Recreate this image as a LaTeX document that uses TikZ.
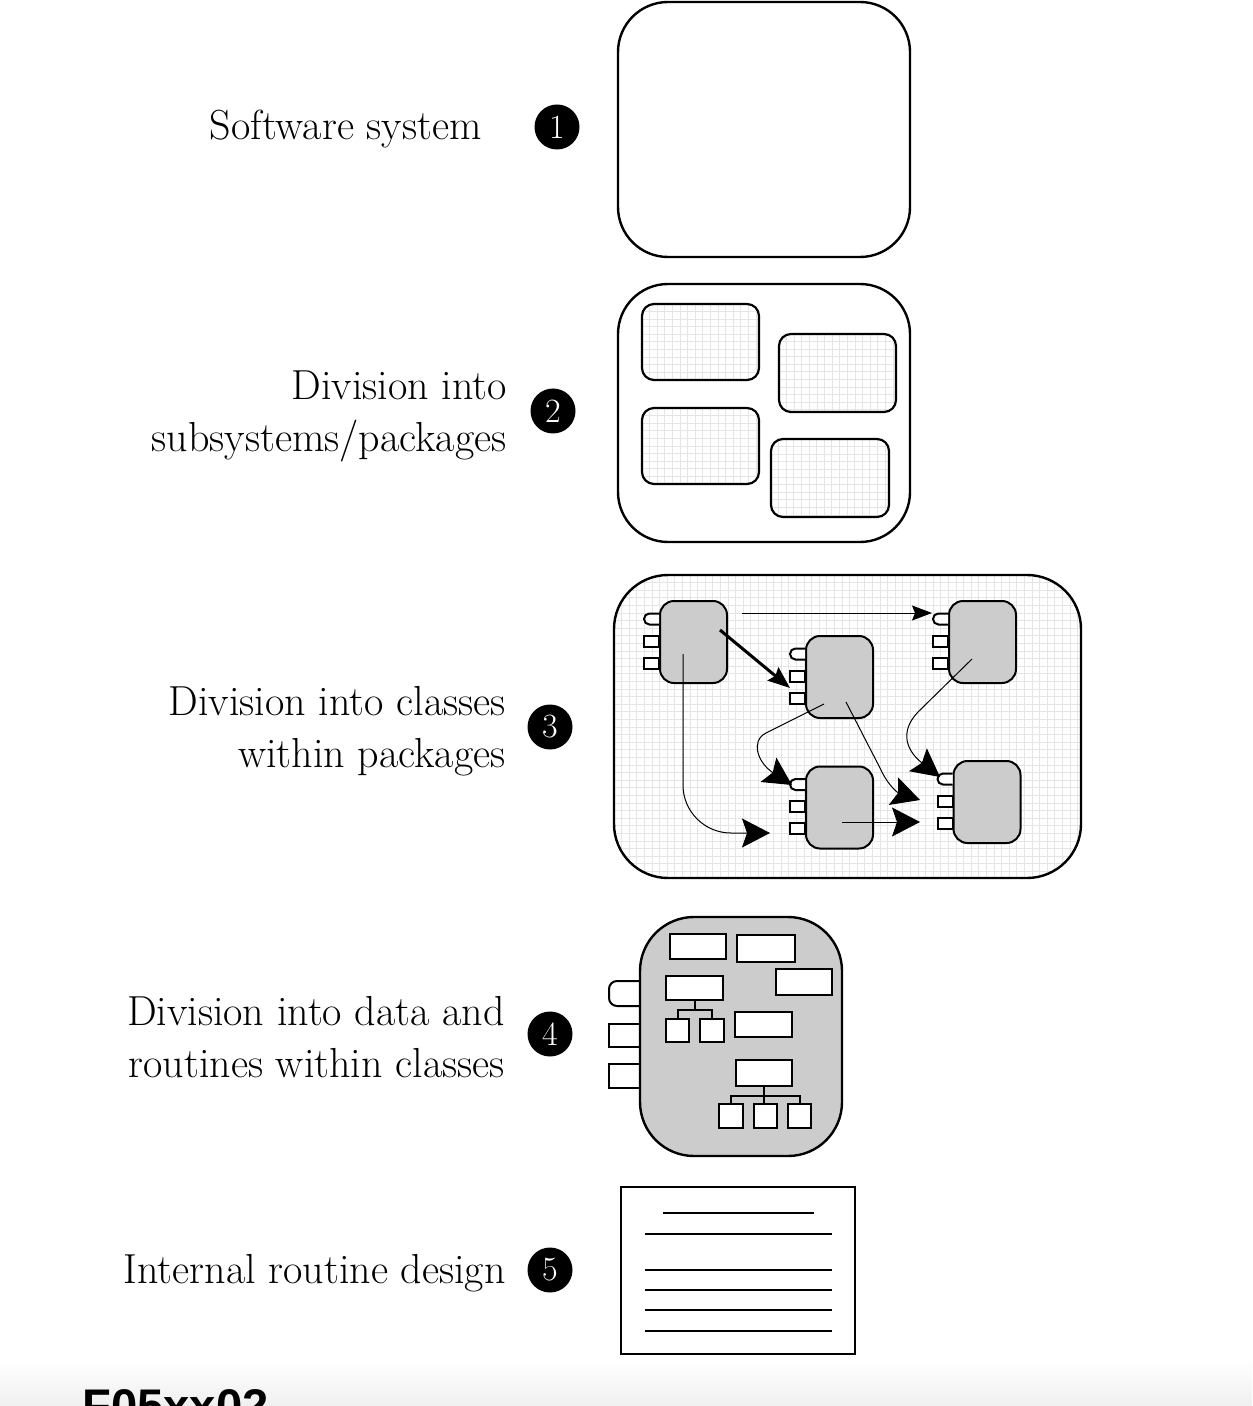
\documentclass[tikz,border=0pt]{standalone}
\usepackage{fontspec}
\newfontfamily\tagfont{Liberation Sans}
\usetikzlibrary{calc, arrows.meta}

\tikzset{
  lbl/.style={anchor=east, align=right, inner sep=0pt, font=\fontsize{21}{26}\selectfont},
  num/.style={circle, fill=black, text=white, minimum size=22.5pt, inner sep=0pt, font=\fontsize{17}{17}\selectfont},
  pkg/.style={draw, line width=1.2pt, rounded corners=25pt},
  subpkg/.style={draw, line width=1.1pt, rounded corners=6pt},
  gridline/.style={black!10, line width=0.5pt},
  gridfill/.style={path picture={
      \foreach \k in {0,...,70} {
        \draw[gridline] ($(path picture bounding box.north west)+(\k*7.6,0)$) -- ++(0,560);
        \draw[gridline] ($(path picture bounding box.north west)+(0,\k*7.6)$) -- ++(560,0);
      }}},
  cls/.style={draw, line width=1pt, fill=black!20, rounded corners=7pt, minimum width=33.5pt, minimum height=41pt, inner sep=0pt},
  port/.style={draw, line width=1pt, fill=white},
  cell/.style={draw, line width=1pt, fill=white, inner sep=0pt, minimum width=28pt, minimum height=12.5pt},
  leaf/.style={cell, minimum width=11.8pt, minimum height=11.8pt},
  treeline/.style={line width=1pt},
  dep/.style={line width=0.5pt, -{Stealth[inset=1.5pt, length=10pt, width=7.5pt]}},
  bolddep/.style={line width=1.5pt, -{Stealth[inset=1.5pt, length=11pt, width=8.5pt]}},
  bigdep/.style={line width=0.5pt, -{Stealth[inset=2.5pt, length=14pt, width=14.5pt]}},
  pagerule/.style={line width=1pt},
}

\newcommand{\classports}[1]{%
  \draw[port, rounded corners=2.7pt] ($(#1.west)+(0,-28.5)$) -- ++(-15,0) -- ++(0,11) -- ++(15,0);
  \draw[port] ($(#1.west)+(-15,-6.5)$) rectangle ++(15,11);
  \draw[port] ($(#1.west)+(-15,15.5)$) rectangle ++(15,11);
}

\begin{document}
\begin{tikzpicture}[x=0.5pt, y=-0.5pt]
  \useasboundingbox (0,0) rectangle (1252,1406);
  \clip (0,0) rectangle (1252,1406);
  \shade[top color=white, bottom color=black!6] (0,1360) rectangle (1252,1406);

  \node[lbl] (l1) at (482,129) {Software system};
  \node[lbl] (l2) at (507,416) {Division into\\subsystems/packages};
  \node[lbl] (l3) at (506,731) {Division into classes\\within packages};
  \node[lbl] (l4) at (505,1037) {Division into data and\\routines within classes};
  \node[lbl] (l5) at (506,1273) {Internal routine design};

  \node[num] (n1) at (557,127) {1};
  \node[num] (n2) at (553,411) {2};
  \node[num] (n3) at (550,727) {3};
  \node[num] (n4) at (550,1034) {4};
  \node[num] (n5) at (550,1270) {5};

  \draw[pkg] (618,2) rectangle (910,257);

  \draw[pkg] (618,284) rectangle (910,542);
  \draw[subpkg, gridfill] (642,304) rectangle (759,380);
  \draw[subpkg, gridfill] (779,334) rectangle (896,412);
  \draw[subpkg, gridfill] (642,408) rectangle (759,484);
  \draw[subpkg, gridfill] (771,439) rectangle (889,517);

  \draw[pkg, rounded corners=27pt, gridfill] (614,575) rectangle (1081,878);
  \node[cls] (c1) at (693.5,642) {};
  \node[cls] (c2) at (839.5,677) {};
  \node[cls] (c3) at (982.5,642) {};
  \node[cls] (c4) at (839.5,807.5) {};
  \node[cls] (c5) at (987,802) {};
  \foreach \c in {c1,c2,c3,c4,c5} {\classports{\c}}

  \draw[dep] ($(c1)+(48.5,-29)$) -- ($(c3)+(-50.5,-29)$);
  \draw[bolddep] ($(c1)+(26.5,-12)$) -- ($(c2)+(-49.5,11)$);
  \draw[bigdep, rounded corners=24pt] ($(c1)+(-10.5,12)$) |- ($(c4)+(-69.5,25.5)$);
  \draw[bigdep] ($(c2)+(-15.5,27)$) -- (766,733) .. controls (750,741) and (758,763) .. ($(c4)+(-47.5,-22.5)$);
  \draw[bigdep] ($(c2)+(6.5,25)$) -- (880,768) .. controls (886,782) and (896,792) .. ($(c5)+(-67,-2)$);
  \draw[bigdep] ($(c4)+(2.5,14.5)$) -- ($(c5)+(-67,20)$);
  \draw[bigdep] ($(c3)+(-10.5,17)$) -- (918,712) .. controls (898,733) and (908,752) .. ($(c5)+(-47,-25)$);

  \draw[port, rounded corners=4pt] (645,981) -- (609,981) -- (609,1006) -- (645,1006);
  \draw[port] (609,1024) rectangle (645,1047);
  \draw[port] (609,1064) rectangle (645,1088);
  \draw[line width=1.2pt, fill=black!20, rounded corners=27pt] (640,917) rectangle (842,1156);
  \node[cell] (r1) at (698,946.5) {};
  \node[cell, minimum width=29pt, minimum height=13.5pt] (r2) at (766,948.5) {};
  \node[cell, minimum height=13pt] (r3) at (804,982) {};
  \node[cell, minimum width=28.5pt, minimum height=12pt] (r4) at (694.5,988) {};
  \node[leaf] (t1) at (677.5,1030.5) {};
  \node[leaf] (t2) at (712,1030.5) {};
  \node[cell, minimum width=28.5pt] (r5) at (763.5,1024.5) {};
  \node[cell, minimum height=13pt] (r6) at (764,1073) {};
  \node[leaf] (t3) at (731,1116) {};
  \node[leaf] (t4) at (765.5,1116) {};
  \node[leaf] (t5) at (799.5,1116) {};
  \draw[treeline] (r4.south) -- ++(0,9) -| (t1.north);
  \draw[treeline] (r4.south) -- ++(0,9) -| (t2.north);
  \draw[treeline] (r6.south) -- ++(0,9) -| (t3.north);
  \draw[treeline] (r6.south) -- ++(0,9) -| (t5.north);
  \draw[treeline] (r6.south) -- (r6.south |- t4.north);

  \draw[line width=1pt] (621,1187) rectangle (855,1354);
  \draw[pagerule] (663,1213) -- (814,1213);
  \foreach \ly in {1234,1270,1290,1310,1331} {\draw[pagerule] (645,\ly) -- (832,\ly);}

  \node[anchor=base west, inner sep=0pt, font=\tagfont\bfseries\fontsize{23.6}{24}\selectfont] (tag) at (82,1422) {F05xx02};
\end{tikzpicture}
\end{document}
